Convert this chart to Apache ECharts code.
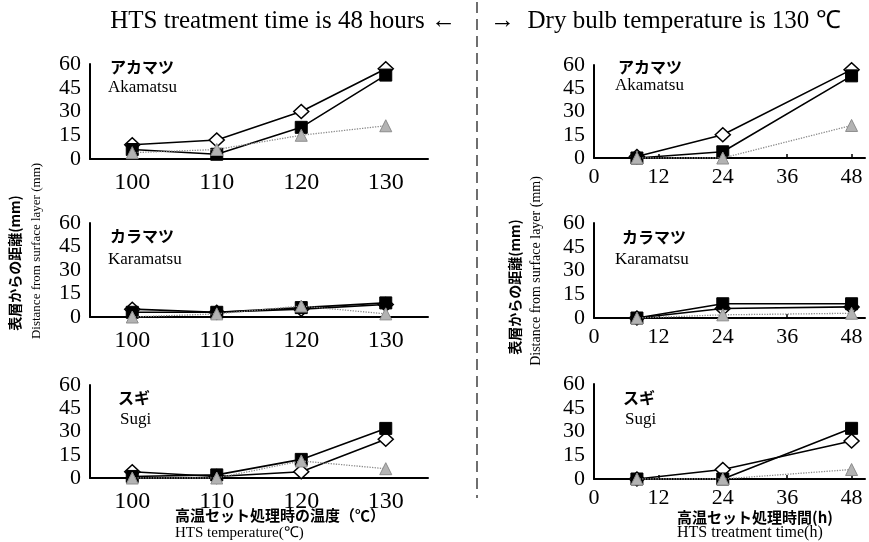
<!DOCTYPE html>
<html>
<head>
<meta charset="utf-8">
<script src="https://cdn.jsdelivr.net/npm/echarts@6/dist/echarts.min.js"></script>
<style>
  html, body { margin: 0; padding: 0; background: #fff; }
  #chart { width: 869px; height: 542px; }
</style>
</head>
<body>
<div id="chart"></div>
<script>
// Categories and tick values
const tempCats = ['100', '110', '120', '130'];
const hours = [8, 24, 48];
const timeTicks = [0, 12, 24, 36, 48];
const yTicks = [0, 15, 30, 45, 60];

// Distance from surface layer (mm) vs. HTS temperature (treatment time 48 h)
const akaTempDiamond = [9, 12, 30, 57];
const akaTempSquare = [6, 3, 20, 53];
const akaTempTriangle = [4, 6, 15, 21];
const karaTempDiamond = [5, 3, 5, 8];
const karaTempSquare = [3, 3, 6, 9];
const karaTempTriangle = [0, 2, 7, 2];
const sugiTempDiamond = [4, 1, 4, 25];
const sugiTempSquare = [1, 2, 12, 32];
const sugiTempTriangle = [0, 0, 11, 6];

// Distance from surface layer (mm) vs. HTS treatment time (dry bulb 130 ℃)
const akaTimeDiamond = [1, 15, 57];
const akaTimeSquare = [0, 4, 53];
const akaTimeTriangle = [0, 0, 21];
const karaTimeDiamond = [0, 6, 7];
const karaTimeSquare = [0, 9, 9];
const karaTimeTriangle = [0, 2, 3];
const sugiTimeDiamond = [0, 6, 24];
const sugiTimeSquare = [0, 0, 32];
const sugiTimeTriangle = [0, 0, 6];

const SERIF = '"Liberation Serif", "Times New Roman", serif';
const CJK = '"Noto Sans CJK JP", sans-serif';

const chart = echarts.init(document.getElementById('chart'), null, { renderer: 'canvas' });

const grids = [
  { left: 90, top: 64, width: 338, height: 95 },
  { left: 90, top: 223, width: 338, height: 94 },
  { left: 90, top: 385, width: 338, height: 93 },
  { left: 594, top: 65, width: 271, height: 93 },
  { left: 594, top: 223, width: 271, height: 95 },
  { left: 594, top: 384, width: 271, height: 95 }
].map(g => Object.assign({ outerBoundsMode: 'none' }, g));

const axisLine = { show: true, lineStyle: { color: '#000', width: 2 } };

const xAxes = [];
const yAxes = [];
for (let i = 0; i < 6; i++) {
  if (i < 3) {
    xAxes.push({
      gridIndex: i, type: 'category', data: tempCats, boundaryGap: true,
      axisLine, axisTick: { show: false }, splitLine: { show: false },
      axisLabel: { color: '#000', fontFamily: SERIF, fontSize: 24, margin: 12 }
    });
  } else {
    xAxes.push({
      gridIndex: i, type: 'value', min: 0, max: 50.5,
      axisLine,
      axisTick: { show: true, inside: true, length: 4, customValues: timeTicks, lineStyle: { color: '#000', width: 1.5 } },
      splitLine: { show: false },
      axisLabel: { color: '#000', fontFamily: SERIF, fontSize: 22, margin: 8, customValues: timeTicks }
    });
  }
  yAxes.push({
    gridIndex: i, type: 'value', min: 0, max: 60, interval: 15,
    axisLine, axisTick: { show: false }, splitLine: { show: false },
    axisLabel: { color: '#000', fontFamily: SERIF, fontSize: 22, margin: 9, customValues: yTicks }
  });
}

function diamondSeries(idx, data) {
  return {
    type: 'line', xAxisIndex: idx, yAxisIndex: idx, data, z: 2,
    symbol: 'diamond', symbolSize: [15, 14],
    itemStyle: { color: '#fff', borderColor: '#000', borderWidth: 1.5 },
    lineStyle: { color: '#000', width: 1.6 }, animation: false
  };
}
function squareSeries(idx, data) {
  return {
    type: 'line', xAxisIndex: idx, yAxisIndex: idx, data, z: 3,
    symbol: 'rect', symbolSize: 12,
    itemStyle: { color: '#000', borderColor: '#000', borderWidth: 1 },
    lineStyle: { color: '#000', width: 1.6 }, animation: false
  };
}
function triangleSeries(idx, data) {
  return {
    type: 'line', xAxisIndex: idx, yAxisIndex: idx, data, z: 4,
    symbol: 'triangle', symbolSize: 12,
    itemStyle: { color: '#b3b3b3', borderColor: '#8c8c8c', borderWidth: 1 },
    lineStyle: { color: '#8a8a8a', width: 1.3, type: 'dotted' }, animation: false
  };
}
const pairs = vals => vals.map((v, i) => [hours[i], v]);

const panels = [
  [akaTempDiamond, akaTempSquare, akaTempTriangle],
  [karaTempDiamond, karaTempSquare, karaTempTriangle],
  [sugiTempDiamond, sugiTempSquare, sugiTempTriangle],
  [pairs(akaTimeDiamond), pairs(akaTimeSquare), pairs(akaTimeTriangle)],
  [pairs(karaTimeDiamond), pairs(karaTimeSquare), pairs(karaTimeTriangle)],
  [pairs(sugiTimeDiamond), pairs(sugiTimeSquare), pairs(sugiTimeTriangle)]
];
const series = [];
panels.forEach((p, i) => {
  series.push(diamondSeries(i, p[0]), squareSeries(i, p[1]), triangleSeries(i, p[2]));
});

function txt(x, y, text, font, opts) {
  return Object.assign({
    type: 'text', x, y, silent: true,
    style: Object.assign({ text, font, fill: '#000', textAlign: 'left', textVerticalAlign: 'middle' }, (opts && opts.style) || {})
  }, (opts && opts.el) || {});
}
const speciesJa = 'bold 16px ' + CJK;
const speciesEn = '17px ' + SERIF;
const vertical = { style: { textAlign: 'center' }, el: { rotation: Math.PI / 2 } };

const graphic = [
  // header and divider
  txt(456, 21, 'HTS treatment time is 48 hours ←', '25px ' + SERIF, { style: { textAlign: 'right' } }),
  txt(490, 21, '→  Dry bulb temperature is 130 ℃', '25px ' + SERIF),
  { type: 'line', silent: true, shape: { x1: 477, y1: 2, x2: 477, y2: 498 },
    style: { stroke: '#222', lineWidth: 1.3, lineDash: [11, 6] } },
  // species labels
  txt(110, 67, 'アカマツ', speciesJa), txt(108, 88, 'Akamatsu', speciesEn),
  txt(618, 67, 'アカマツ', speciesJa), txt(615, 86, 'Akamatsu', speciesEn),
  txt(110, 236, 'カラマツ', speciesJa), txt(108, 260, 'Karamatsu', speciesEn),
  txt(622, 237, 'カラマツ', speciesJa), txt(615, 260, 'Karamatsu', speciesEn),
  txt(118, 398, 'スギ', speciesJa), txt(120, 420, 'Sugi', speciesEn),
  txt(623, 398, 'スギ', speciesJa), txt(625, 420, 'Sugi', speciesEn),
  // y axis names
  txt(15, 263, '表層からの距離(mm)', 'bold 14px ' + CJK, vertical),
  txt(37, 251, 'Distance from surface layer (mm)', '13px ' + SERIF, vertical),
  txt(515, 287, '表層からの距離(mm)', 'bold 14px ' + CJK, vertical),
  txt(536, 271, 'Distance from surface layer (mm)', '14px ' + SERIF, vertical),
  // x axis names
  txt(175, 515, '高温セット処理時の温度（℃）', 'bold 15px ' + CJK),
  txt(175, 533, 'HTS temperature(℃)', '15px ' + SERIF),
  txt(677, 517, '高温セット処理時間(h)', 'bold 15px ' + CJK),
  txt(677, 533, 'HTS treatment time(h)', '16px ' + SERIF)
];

chart.setOption({
  backgroundColor: '#fff',
  animation: false,
  grid: grids,
  xAxis: xAxes,
  yAxis: yAxes,
  series,
  graphic
});
</script>
</body>
</html>
